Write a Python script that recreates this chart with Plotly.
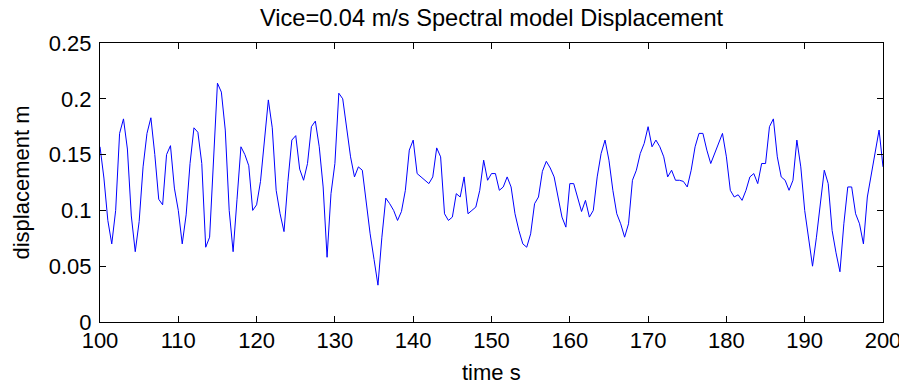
import numpy as np
import plotly.graph_objects as go

# sample times (s), 0.5 s sampling
time_s = np.arange(100.0, 200.01, 0.5)

# displacement (m), in 20 s blocks
disp_100_120 = [0.157, 0.129, 0.091, 0.070, 0.100, 0.169, 0.182, 0.155, 0.095, 0.063,
                0.090, 0.139, 0.169, 0.183, 0.150, 0.110, 0.105, 0.150, 0.158, 0.120,
                0.100, 0.070, 0.096, 0.142, 0.174, 0.170, 0.142, 0.067, 0.076, 0.140,
                0.214, 0.206, 0.172, 0.100, 0.063, 0.110, 0.157, 0.150, 0.140, 0.100]
disp_120_140 = [0.105, 0.126, 0.166, 0.199, 0.174, 0.118, 0.097, 0.081, 0.126, 0.163,
                0.167, 0.137, 0.127, 0.142, 0.175, 0.180, 0.157, 0.121, 0.058, 0.115,
                0.142, 0.205, 0.200, 0.172, 0.148, 0.130, 0.139, 0.136, 0.106, 0.079,
                0.056, 0.033, 0.076, 0.111, 0.106, 0.100, 0.091, 0.099, 0.118, 0.154]
disp_140_160 = [0.163, 0.133, 0.130, 0.127, 0.124, 0.130, 0.156, 0.148, 0.097, 0.091,
                0.094, 0.115, 0.112, 0.130, 0.097, 0.100, 0.103, 0.118, 0.145, 0.127,
                0.133, 0.133, 0.118, 0.121, 0.130, 0.121, 0.097, 0.082, 0.070, 0.067,
                0.079, 0.106, 0.112, 0.135, 0.144, 0.138, 0.130, 0.112, 0.094, 0.085]
disp_160_180 = [0.124, 0.124, 0.112, 0.099, 0.109, 0.094, 0.100, 0.130, 0.151, 0.163,
                0.145, 0.118, 0.097, 0.088, 0.076, 0.088, 0.127, 0.136, 0.151, 0.160,
                0.175, 0.157, 0.163, 0.157, 0.148, 0.130, 0.136, 0.127, 0.127, 0.126,
                0.121, 0.136, 0.157, 0.169, 0.169, 0.154, 0.142, 0.151, 0.160, 0.169]
disp_180_200 = [0.148, 0.118, 0.112, 0.114, 0.109, 0.118, 0.130, 0.133, 0.124, 0.142,
                0.142, 0.175, 0.182, 0.148, 0.130, 0.127, 0.118, 0.127, 0.163, 0.139,
                0.100, 0.076, 0.050, 0.076, 0.106, 0.136, 0.124, 0.082, 0.062, 0.045,
                0.088, 0.121, 0.121, 0.097, 0.088, 0.070, 0.112, 0.133, 0.151, 0.172,
                0.139]

displacement = disp_100_120 + disp_120_140 + disp_140_160 + disp_160_180 + disp_180_200

x_ticks = [100, 110, 120, 130, 140, 150, 160, 170, 180, 190, 200]
y_ticks = [0, 0.05, 0.1, 0.15, 0.2, 0.25]
y_tick_labels = ["0", "0.05", "0.1", "0.15", "0.2", "0.25"]

FONT = "Liberation Sans, Arial, sans-serif"

# the page body adds an 8 px offset, so margins are shifted by 8 px
W, H = 907, 387
L, R, T, B = 92, 32, 35, 73
plot_w = W - L - R
plot_h = H - T - B

fig = go.Figure()
fig.add_trace(go.Scatter(
    x=time_s, y=displacement, mode="lines",
    line=dict(color="#0000FF", width=1, shape="linear"),
    showlegend=False,
))

axis_common = dict(
    showline=True, linecolor="black", linewidth=1, mirror="allticks",
    ticks="inside", ticklen=6, tickwidth=1, tickcolor="black",
    showgrid=False, zeroline=False, automargin=False,
    ticklabeloverflow="allow",
    tickfont=dict(family=FONT, size=22, color="black"),
)

fig.update_layout(
    template="none",
    width=W, height=H,
    margin=dict(l=L, r=R, t=T, b=B, autoexpand=False),
    paper_bgcolor="white", plot_bgcolor="white",
    font=dict(family=FONT, color="black"),
    title=dict(text="Vice=0.04 m/s Spectral model Displacement",
               x=0.5, xref="paper", y=1 - 9.5 / H, yref="container",
               xanchor="center", yanchor="middle",
               font=dict(family=FONT, size=23.6, color="black")),
    xaxis=dict(range=[100, 200], tickvals=x_ticks, ticklabelstandoff=-1,
               **axis_common),
    yaxis=dict(range=[0, 0.25], tickvals=y_ticks, ticktext=y_tick_labels,
               ticklabelstandoff=3, **axis_common),
    annotations=[
        dict(text="time s", xref="paper", yref="paper",
             x=0.5, y=-(364 - (T + plot_h)) / plot_h, xanchor="center", yanchor="middle",
             showarrow=False, font=dict(family=FONT, size=22, color="black")),
        dict(text="displacement m", xref="paper", yref="paper",
             x=(13 - L) / plot_w, y=0.5, xanchor="center", yanchor="middle",
             textangle=-90, showarrow=False,
             font=dict(family=FONT, size=22, color="black")),
    ],
)

fig.write_html("out.html")
